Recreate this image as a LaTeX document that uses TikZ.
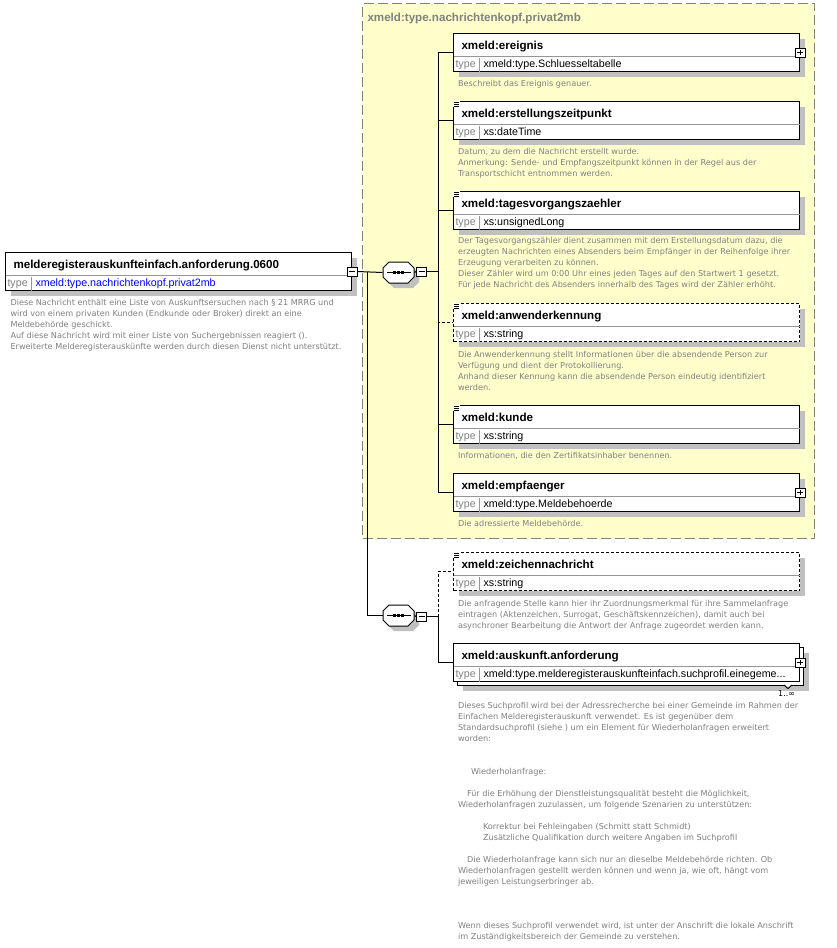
\documentclass[tikz,border=0pt]{standalone}
\usepackage{fontspec}
\setmainfont{Liberation Sans}
\newfontfamily\dsc{DejaVu Sans}
\usetikzlibrary{shadows}
\definecolor{grpyel}{RGB}{255,255,204}
\definecolor{midgray}{RGB}{128,128,128}
\definecolor{shadegray}{RGB}{192,192,192}
\definecolor{sepgray}{RGB}{150,150,150}
\definecolor{rootblue}{RGB}{0,0,255}
\tikzset{
  shdw/.style  ={drop shadow={shadow xshift=5pt,shadow yshift=-5pt,fill=shadegray,opacity=1}},
  elem/.style  ={draw,fill=white,anchor=north west,minimum width=346pt,minimum height=38pt,inner sep=0pt},
  opt/.style   ={dash pattern=on 3pt off 2pt},
  sep/.style   ={draw=sepgray,shorten <=0.5pt,shorten >=0.5pt},
  ttl/.style   ={anchor=base west,inner sep=0pt,font=\fontsize{11.6}{13}\selectfont\bfseries},
  tkey/.style  ={anchor=base west,inner sep=0pt,font=\fontsize{10.7}{12}\selectfont,text=midgray},
  tval/.style  ={anchor=base west,inner sep=0pt,font=\fontsize{10.7}{12}\selectfont},
  desc/.style  ={anchor=north west,inner sep=0pt,align=left,text=midgray,font=\dsc\fontsize{8.15}{11}\selectfont},
  pm/.style    ={draw,fill=white,minimum width=10pt,minimum height=9pt,inner sep=0pt},
  plus/.style  ={pm,path picture={
      \draw ([xshift=2pt]path picture bounding box.west) -- ([xshift=-2pt]path picture bounding box.east)
            ([yshift=-2pt]path picture bounding box.north) -- ([yshift=2pt]path picture bounding box.south);}},
  minus/.style ={pm,path picture={
      \draw ([xshift=2pt]path picture bounding box.west) -- ([xshift=-2pt]path picture bounding box.east);}},
  seqbox/.style={minimum width=31pt,minimum height=21pt,inner sep=0pt},
  grp/.style   ={draw=midgray,fill=grpyel,dash pattern=on 10pt off 4pt,anchor=north west,inner sep=0pt},
}
% element box: [style]{name}{top left}{title}{type}
\newcommand\elem[5][shdw]{%
  \node[elem,#1] (#2) at (#3) {};
  \draw[sep] ([yshift=-23pt]#2.north west) -- ([yshift=-23pt]#2.north east);
  \draw[sep] ([xshift=26pt,yshift=15pt]#2.south west) -- ([xshift=26pt]#2.south west);
  \node[ttl]  at ([xshift=8pt,yshift=-16pt]#2.north west) {#4};
  \node[tkey] at ([xshift=2pt,yshift=4.5pt]#2.south west) {type};
  \node[tval] at ([xshift=30pt,yshift=4.5pt]#2.south west) {#5};
}
% documentation mark in the corner
\newcommand\docmark[1]{%
  \fill[white] ([xshift=-0.5pt,yshift=0.5pt]#1.north west) rectangle ([xshift=6.5pt,yshift=-6pt]#1.north west);
  \foreach \d in {1,3,5} \draw ([xshift=1pt,yshift=-\d pt]#1.north west) -- ++(5pt,0pt);
}
% sequence compositor
\newcommand\seqnode[2]{%
  \node[seqbox] (#1) at (#2) {};
  \fill[shadegray] ([xshift=5pt,yshift=-5pt]#1.center) ++(-9.5,-10.5) -- ++(19,0) -- ++(6,6) -- ++(0,9)
    -- ++(-6,6) -- ++(-19,0) -- ++(-6,-6) -- ++(0,-9) -- cycle;
  \draw[fill=white] (#1.center) ++(-9.5,-10.5) -- ++(19,0) -- ++(6,6) -- ++(0,9)
    -- ++(-6,6) -- ++(-19,0) -- ++(-6,-6) -- ++(0,-9) -- cycle;
  \draw ([xshift=-12pt]#1.center) -- ([xshift=12pt]#1.center);
  \foreach \s in {-4,0,4} \fill ([xshift=\s pt]#1.center) +(-1.4,-1.4) rectangle +(1.4,1.4);
}

\begin{document}
\begin{tikzpicture}[x=1pt,y=-1pt,line width=1pt]
  \fill[white] (0,0) rectangle (836,948);
  \useasboundingbox (0,0) rectangle (836,948);

  \node[grp,minimum width=452pt,minimum height=535pt] (grp) at (362,3) {};
  \node[ttl,text=midgray] (grp-t) at (367,21.5) {xmeld:type.nachrichtenkopf.privat2mb};

  \elem{root}{5,252}{melderegisterauskunfteinfach.anforderung.0600}{\textcolor{rootblue}{xmeld:type.nachrichtenkopf.privat2mb}}
  \node[desc] (root-d) at (10,298.5) {Diese Nachricht enthält eine Liste von Auskunftsersuchen nach § 21 MRRG und\\wird von einem privaten Kunden (Endkunde oder Broker) direkt an eine\\Meldebehörde geschickt.\\Auf diese Nachricht wird mit einer Liste von Suchergebnissen reagiert ().\\Erweiterte Melderegisterauskünfte werden durch diesen Dienst nicht unterstützt.};

  \elem{ereignis}{453,33}{xmeld:ereignis}{xmeld:type.Schluesseltabelle}
  \node[desc] (ereignis-d) at (457.5,79.5) {Beschreibt das Ereignis genauer.};

  \elem{erst}{453,101}{xmeld:erstellungszeitpunkt}{xs:dateTime}
  \node[desc] (erst-d) at (457.5,147.5) {Datum, zu dem die Nachricht erstellt wurde.\\Anmerkung: Sende- und Empfangszeitpunkt können in der Regel aus der\\Transportschicht entnommen werden.};

  \elem{tages}{453,191}{xmeld:tagesvorgangszaehler}{xs:unsignedLong}
  \node[desc] (tages-d) at (457.5,236.5) {Der Tagesvorgangszähler dient zusammen mit dem Erstellungsdatum dazu, die\\erzeugten Nachrichten eines Absenders beim Empfänger in der Reihenfolge ihrer\\Erzeugung verarbeiten zu können.\\Dieser Zähler wird um 0:00 Uhr eines jeden Tages auf den Startwert 1 gesetzt.\\Für jede Nachricht des Absenders innerhalb des Tages wird der Zähler erhöht.};

  \elem[shdw,opt]{anw}{453,303}{xmeld:anwenderkennung}{xs:string}
  \node[desc] (anw-d) at (457.5,350.5) {Die Anwenderkennung stellt Informationen über die absendende Person zur\\Verfügung und dient der Protokollierung.\\Anhand dieser Kennung kann die absendende Person eindeutig identifiziert\\werden.};

  \elem{kunde}{453,405}{xmeld:kunde}{xs:string}
  \node[desc] (kunde-d) at (457.5,451.5) {Informationen, die den Zertifikatsinhaber benennen.};

  \elem{empf}{453,473}{xmeld:empfaenger}{xmeld:type.Meldebehoerde}
  \node[desc] (empf-d) at (457.5,519.5) {Die adressierte Meldebehörde.};

  \elem[shdw,opt]{zeichen}{453,552}{xmeld:zeichennachricht}{xs:string}
  \node[desc] (zeichen-d) at (457.5,599.5) {Die anfragende Stelle kann hier ihr Zuordnungsmerkmal für ihre Sammelanfrage\\eintragen (Aktenzeichen, Surrogat, Geschäftskennzeichen), damit auch bei\\asynchroner Bearbeitung die Antwort der Anfrage zugeordet werden kann.};

  \node[elem,shdw] (ausk-b) at (457,647) {};
  \elem[]{ausk}{453,643}{xmeld:auskunft.anforderung}{xmeld:type.melderegisterauskunfteinfach.suchprofil.einegeme...}
  \draw[fill=white] (784,685) -- (788,688.5) -- (792,685);
  \node[anchor=base east,inner sep=0pt,font=\dsc\fontsize{8}{10}\selectfont] (occ) at (795.5,696.5) {1..∞};
  \node[desc] (ausk-d) at (457.5,701.5) {Dieses Suchprofil wird bei der Adressrecherche bei einer Gemeinde im Rahmen der\\Einfachen Melderegisterauskunft verwendet. Es ist gegenüber dem\\Standardsuchprofil (siehe ) um ein Element für Wiederholanfragen erweitert\\worden:\\[22pt]
    \hspace*{13pt}Wiederholanfrage:\\[11pt]
    \hspace*{9pt}Für die Erhöhung der Dienstleistungsqualität besteht die Möglichkeit,\\Wiederholanfragen zuzulassen, um folgende Szenarien zu unterstützen:\\[11pt]
    \hspace*{25pt}Korrektur bei Fehleingaben (Schmitt statt Schmidt)\\\hspace*{25pt}Zusätzliche Qualifikation durch weitere Angaben im Suchprofil\\[11pt]
    \hspace*{9pt}Die Wiederholanfrage kann sich nur an dieselbe Meldebehörde richten. Ob\\Wiederholanfragen gestellt werden können und wenn ja, wie oft, hängt vom\\jeweiligen Leistungserbringer ab.\\[33pt]
    Wenn dieses Suchprofil verwendet wird, ist unter der Anschrift die lokale Anschrift\\im Zuständigkeitsbereich der Gemeinde zu verstehen.};

  \foreach \n in {erst,tages,anw,kunde,zeichen} \docmark{\n}
  \foreach \n in {ereignis,empf,ausk} \node[plus] (\n-p) at (\n.east) {};

  \node[minus] (root-m) at (root.east) {};
  \seqnode{seq1}{398.5,272.5}
  \node[minus] (seq1-m) at (421.5,271.5) {};
  \seqnode{seq2}{398.5,615.5}
  \node[minus] (seq2-m) at (421.5,616.5) {};

  \coordinate (j1) at (367,272);
  \draw (root-m.east) -- (seq1.west);
  \draw (j1) |- (seq2.west);
  \draw (seq1.east) -- (seq1-m.west);
  \draw (seq1-m.east) -- ++(11,0) coordinate (t1);
  \foreach \n in {ereignis,erst,tages,kunde,empf} \draw (t1) |- (\n.west);
  \draw[opt] (t1) |- (anw.west);
  \draw (seq2.east) -- (seq2-m.west);
  \draw (seq2-m.east) -- ++(11,0) coordinate (t2);
  \draw[opt] (t2) |- (zeichen.west);
  \draw (t2) |- (ausk.west);
\end{tikzpicture}
\end{document}
